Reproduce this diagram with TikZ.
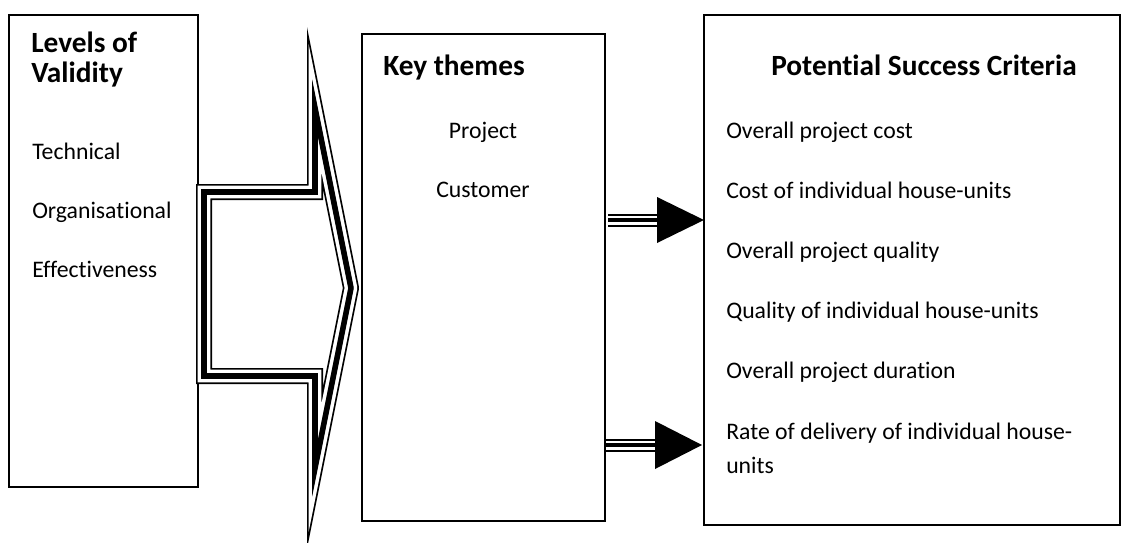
\documentclass[tikz,border=0pt]{standalone}
\usepackage{fontspec}
\setmainfont{Carlito}[Ligatures={NoCommon,NoContextual}]
\usetikzlibrary{calc}
\begin{document}
\begin{tikzpicture}[x=0.75pt,y=-0.75pt]
	\tikzset{box/.style={draw,line width=1pt,inner sep=0pt,outer sep=0pt,anchor=north west},
		txt/.style={anchor=base west,inner sep=0pt,font=\fontsize{17.8}{21}\selectfont},
		head/.style={anchor=base west,inner sep=0pt,font=\fontsize{22}{22}\selectfont\bfseries}}
	\useasboundingbox (0,0) rectangle (1130,542);
	% boxes
	\node[box,minimum width=141.75pt,minimum height=354pt] (levels) at (9,15) {};
	\node[box,minimum width=182.25pt,minimum height=365.25pt] (themes) at (362,34) {};
	\node[box,minimum width=312pt,minimum height=382.5pt] (criteria) at (704,15) {};
	% left box
	\node[head,align=left] (lv) at (31,82) {Levels of\\Validity};
	\node[txt] (tech) at (32,159) {Technical};
	\node[txt] (org) at (32,218) {Organisational};
	\node[txt] (eff) at (32,277) {Effectiveness};
	% middle box
	\node[head] (key) at (383,75) {Key themes};
	\node[txt,anchor=base] (proj) at (483,138) {Project};
	\node[txt,anchor=base] (cust) at (483,197) {Customer};
	% right box
	\node[head,anchor=base] (psc) at (924,75) {Potential Success Criteria};
	\foreach \t [count=\i] in {Overall project cost,Cost of individual house-units,Overall project quality,Quality of individual house-units,Overall project duration}
		\node[txt] (c\i) at (726,78+60*\i) {\t};
	\node[txt] (c6) at (726,439) {Rate of delivery of individual house-};
	\node[txt] (c6b) at (726,473) {units};
	% big arrow
	\coordinate (tip) at (351,288);
	\foreach \w/\c in {12pt/black,9.45pt/white,4.2pt/black}
		\draw[line width=\w,draw=\c,line cap=round,miter limit=12]
		(tip) -- (315,108) -- (315,192) -- (204,192) -- (204,376) -- (315,376) -- (315,468) -- (tip);
	% small arrows
	\coordinate (y1) at (0,220);
	\coordinate (y2) at (0,445);
	\foreach \w/\c in {9.75pt/black,6.75pt/white,3.4pt/black} {
		\draw[line width=\w,draw=\c] ($(themes.east |- y1)+(3,0)$) -- ($(criteria.west |- y1)+(-44,0)$);
		\draw[line width=\w,draw=\c] ($(themes.east |- y2)+(1,0)$) -- ($(criteria.west |- y2)+(-46,0)$);
	}
	\fill (criteria.west |- y1) -- ++(-47,-23) -- ++(0,46) -- cycle;
	\fill ($(criteria.west |- y2)+(-2,0)$) -- ++(-47,-24) -- ++(0,48) -- cycle;
\end{tikzpicture}
\end{document}
